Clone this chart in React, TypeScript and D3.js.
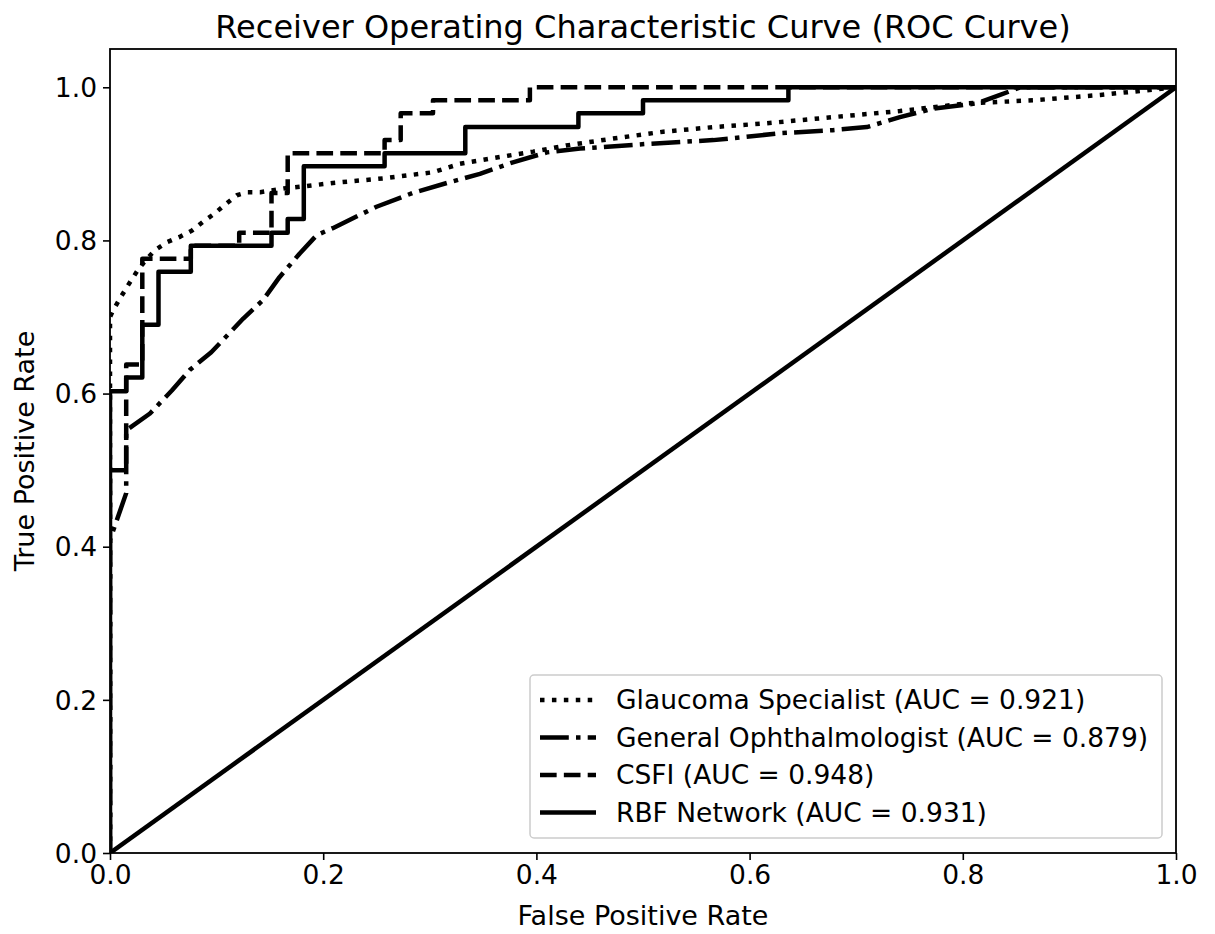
import { useEffect, useRef } from 'react'
import * as d3 from 'd3'

// ROC points
const glaucomaFpr = [0, 0, 0.003, 0.011, 0.019, 0.026, 0.034, 0.042, 0.054, 0.066, 0.077, 0.087, 0.098, 0.109, 0.119, 0.129, 0.141, 0.164, 0.178, 0.209, 0.256, 0.303, 0.328, 0.366, 0.397, 0.428, 0.472, 0.519, 0.566, 0.616, 0.678, 0.741, 0.804, 0.866, 0.929, 1]
const glaucomaTpr = [0, 0.7, 0.709, 0.728, 0.746, 0.761, 0.775, 0.787, 0.798, 0.805, 0.813, 0.824, 0.835, 0.848, 0.859, 0.863, 0.863, 0.868, 0.87, 0.875, 0.881, 0.889, 0.9, 0.909, 0.916, 0.924, 0.933, 0.942, 0.948, 0.953, 0.961, 0.969, 0.979, 0.983, 0.99, 1]

const generalFpr = [0, 0, 0.0152, 0.0152, 0.0375, 0.058, 0.075, 0.095, 0.125, 0.1435, 0.159, 0.178, 0.194, 0.209, 0.25, 0.284, 0.316, 0.347, 0.378, 0.41, 0.441, 0.503, 0.566, 0.629, 0.678, 0.71, 0.741, 0.772, 0.813, 0.835, 0.854, 1]
const generalTpr = [0, 0.409, 0.47, 0.552, 0.574, 0.604, 0.631, 0.654, 0.698, 0.722, 0.752, 0.783, 0.807, 0.816, 0.844, 0.862, 0.875, 0.887, 0.902, 0.915, 0.92, 0.926, 0.931, 0.94, 0.944, 0.948, 0.961, 0.972, 0.979, 0.99, 1, 1]

const csfiFpr = [0, 0, 0.0152, 0.0152, 0.0303, 0.0303, 0.0758, 0.0758, 0.1212, 0.1212, 0.1515, 0.1515, 0.1667, 0.1667, 0.2576, 0.2576, 0.2727, 0.2727, 0.303, 0.303, 0.3939, 0.3939, 1]
const csfiTpr = [0, 0.5, 0.5, 0.638, 0.638, 0.776, 0.776, 0.793, 0.793, 0.81, 0.81, 0.862, 0.862, 0.914, 0.914, 0.931, 0.931, 0.966, 0.966, 0.983, 0.983, 1, 1]

const rbfFpr = [0, 0, 0.0152, 0.0152, 0.0303, 0.0303, 0.0455, 0.0455, 0.0758, 0.0758, 0.1515, 0.1515, 0.1667, 0.1667, 0.1818, 0.1818, 0.2576, 0.2576, 0.3333, 0.3333, 0.4394, 0.4394, 0.5, 0.5, 0.6364, 0.6364, 1]
const rbfTpr = [0, 0.603, 0.603, 0.621, 0.621, 0.69, 0.69, 0.759, 0.759, 0.793, 0.793, 0.81, 0.81, 0.828, 0.828, 0.897, 0.897, 0.914, 0.914, 0.948, 0.948, 0.966, 0.966, 0.983, 0.983, 1, 1]

const chanceFpr = [0, 1]
const chanceTpr = [0, 1]

const seriesNames = ['Glaucoma Specialist', 'General Ophthalmologist', 'CSFI', 'RBF Network']
const aucValues = [0.921, 0.879, 0.948, 0.931]
const ticks = [0, 0.2, 0.4, 0.6, 0.8, 1.0]

export default function App() {
  const ref = useRef<SVGSVGElement>(null)

  useEffect(() => {
    const width = 1215
    const height = 934
    const margin = { top: 49, right: 39, bottom: 81, left: 110 }
    const font = 'DejaVu Sans, sans-serif'
    const lw = 4.5

    const svg = d3.select(ref.current)
    svg.selectAll('*').remove()
    svg.attr('width', width).attr('height', height)
      .style('background', 'white')

    const x = d3.scaleLinear().domain([0, 1]).range([margin.left, width - margin.right])
    const y = d3.scaleLinear().domain([0, 1.05]).range([height - margin.bottom, margin.top])

    svg.append('defs').append('clipPath').attr('id', 'plot')
      .append('rect')
      .attr('x', x(0)).attr('y', y(1.05))
      .attr('width', x(1) - x(0)).attr('height', y(0) - y(1.05))

    const line = d3.line<[number, number]>()
      .x(d => x(d[0]))
      .y(d => y(d[1]))

    const zip = (a: number[], b: number[]) => a.map((v, i) => [v, b[i]] as [number, number])

    const styles = [
      `${lw},${lw * 1.65}`,
      `${lw * 6.4},${lw * 1.6},${lw},${lw * 1.6}`,
      `${lw * 3.7},${lw * 1.6}`,
      null
    ]
    const curves = [
      zip(glaucomaFpr, glaucomaTpr),
      zip(generalFpr, generalTpr),
      zip(csfiFpr, csfiTpr),
      zip(rbfFpr, rbfTpr)
    ]

    const plot = svg.append('g').attr('clip-path', 'url(#plot)')
    curves.forEach((c, i) => {
      plot.append('path')
        .attr('d', line(c))
        .attr('fill', 'none')
        .attr('stroke', 'black')
        .attr('stroke-width', lw)
        .attr('stroke-linejoin', 'round')
        .attr('stroke-dasharray', styles[i])
    })
    plot.append('path')
      .attr('d', line(zip(chanceFpr, chanceTpr)))
      .attr('fill', 'none')
      .attr('stroke', 'black')
      .attr('stroke-width', lw)

    // frame
    svg.append('rect')
      .attr('x', x(0)).attr('y', y(1.05))
      .attr('width', x(1) - x(0)).attr('height', y(0) - y(1.05))
      .attr('fill', 'none').attr('stroke', 'black').attr('stroke-width', 1.8)

    const xAxis = svg.append('g')
      .attr('transform', `translate(0, ${y(0)})`)
      .call(d3.axisBottom(x).tickValues(ticks).tickFormat(d3.format('.1f')).tickSize(7).tickPadding(5))
    const yAxis = svg.append('g')
      .attr('transform', `translate(${x(0)}, 0)`)
      .call(d3.axisLeft(y).tickValues(ticks).tickFormat(d3.format('.1f')).tickSize(7).tickPadding(6))

    for (const ax of [xAxis, yAxis]) {
      ax.select('.domain').remove()
      ax.selectAll('line').attr('stroke', 'black').attr('stroke-width', 1.6)
      ax.selectAll('text').attr('font-family', font).attr('font-size', 26.5).attr('fill', 'black')
    }
    yAxis.selectAll('text').attr('dy', '0.35em')

    svg.append('text')
      .attr('x', (x(0) + x(1)) / 2).attr('y', 38)
      .attr('text-anchor', 'middle')
      .attr('font-family', font).attr('font-size', 32)
      .text('Receiver Operating Characteristic Curve (ROC Curve)')

    svg.append('text')
      .attr('x', (x(0) + x(1)) / 2).attr('y', 925)
      .attr('text-anchor', 'middle')
      .attr('font-family', font).attr('font-size', 27)
      .text('False Positive Rate')

    svg.append('text')
      .attr('transform', `translate(34, ${(y(0) + y(1.05)) / 2}) rotate(-90)`)
      .attr('text-anchor', 'middle')
      .attr('font-family', font).attr('font-size', 27)
      .text('True Positive Rate')

    // legend
    const legend = svg.append('g')
    legend.append('rect')
      .attr('x', 530).attr('y', 675).attr('width', 632).attr('height', 163)
      .attr('rx', 4)
      .attr('fill', 'white').attr('stroke', '#cccccc').attr('stroke-width', 1.5)

    seriesNames.forEach((name, i) => {
      const cy = 700 + i * 37.5
      legend.append('line')
        .attr('x1', 540).attr('x2', 596).attr('y1', cy).attr('y2', cy)
        .attr('stroke', 'black').attr('stroke-width', lw)
        .attr('stroke-dasharray', styles[i])
      legend.append('text')
        .attr('x', 616).attr('y', cy).attr('dy', '0.35em')
        .attr('font-family', font).attr('font-size', 26.5)
        .text(`${name} (AUC = ${aucValues[i].toFixed(3)})`)
    })
  }, [])

  return (
    <div style={{ position: 'absolute', left: 0, top: 0 }}>
      <svg ref={ref}></svg>
    </div>
  )
}
